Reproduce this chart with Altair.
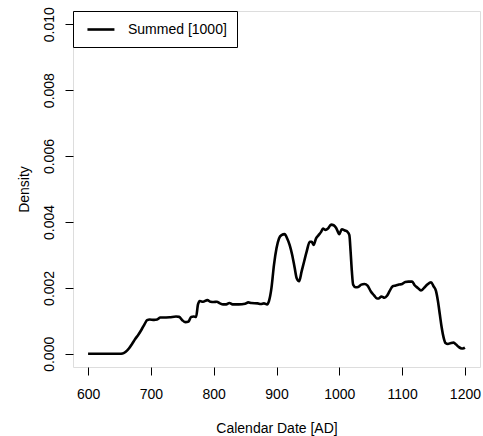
import altair as alt
import pandas as pd

years = [600, 620, 640, 650, 655, 660, 665, 670, 675, 680, 685, 690, 694, 698,
         705, 710, 715, 720, 730, 740, 745, 750, 755, 760, 764, 768, 772, 775,
         778, 783, 790, 795, 800, 805, 810, 815, 820, 825, 830, 840, 850, 855,
         860, 870, 875, 880, 885, 888, 892, 896, 900, 904, 908, 913, 917, 921,
         925, 929, 932, 936, 940, 944, 948, 953, 956, 959, 963, 967, 971, 974,
         978, 982, 987, 991, 995, 1000, 1004, 1009, 1013, 1016, 1018, 1020,
         1022, 1026, 1030, 1035, 1040, 1045, 1050, 1055, 1060, 1063, 1067,
         1072, 1076, 1080, 1085, 1090, 1095, 1100, 1105, 1110, 1116, 1120,
         1125, 1130, 1135, 1140, 1146, 1150, 1154, 1157, 1160, 1163, 1166,
         1169, 1173, 1178, 1182, 1186, 1190, 1195, 1198, 1200]
density = [0, 0, 0, 0, 0.00001, 0.00006, 0.00016, 0.0003, 0.00045, 0.00058,
           0.00073, 0.0009, 0.00102, 0.00104, 0.00103, 0.00104, 0.0011, 0.0011,
           0.00111, 0.00113, 0.00112, 0.00102, 0.00096, 0.00098, 0.00112,
           0.00113, 0.00112, 0.0015, 0.0016, 0.00158, 0.00163, 0.00158, 0.00157,
           0.00158, 0.00153, 0.0015, 0.0015, 0.00154, 0.0015, 0.0015, 0.00152,
           0.00156, 0.00154, 0.00153, 0.00151, 0.00153, 0.0015, 0.0016, 0.002,
           0.0027, 0.0032, 0.0035, 0.0036, 0.00363, 0.0035, 0.0033, 0.003,
           0.0026, 0.0023, 0.0022, 0.0025, 0.0028, 0.0031, 0.0034, 0.0034,
           0.0033, 0.0035, 0.0036, 0.0037, 0.0038, 0.00376, 0.0038, 0.00392,
           0.0039, 0.00382, 0.00363, 0.00378, 0.00374, 0.0037, 0.0036, 0.0031,
           0.0025, 0.0021, 0.00202, 0.00203, 0.0021, 0.00212, 0.00207, 0.0019,
           0.00178, 0.00168, 0.00168, 0.00174, 0.0017, 0.00176, 0.0019,
           0.00205, 0.00207, 0.0021, 0.00212, 0.00218, 0.00219, 0.00219,
           0.00208, 0.002, 0.00192, 0.002, 0.0021, 0.00217, 0.00205, 0.0019,
           0.0016, 0.0012, 0.0008, 0.0005, 0.00033, 0.0003, 0.00033, 0.00034,
           0.00028, 0.00021, 0.00016, 0.00017, 0.00019]
series_name = "Summed [1000]"
x_ticks = [600, 700, 800, 900, 1000, 1100, 1200]
y_ticks = [0.0, 0.002, 0.004, 0.006, 0.008, 0.010]

df = pd.DataFrame({"year": years, "density": density, "series": series_name})

FONT = "Liberation Sans"

chart = alt.Chart(df).mark_line(
    color="black", strokeWidth=2.6, interpolate="monotone"
).encode(
    x=alt.X("year:Q",
            scale=alt.Scale(domain=[576, 1224], nice=False, zero=False),
            axis=alt.Axis(values=x_ticks, format="d", title="Calendar Date [AD]",
                          grid=False, domain=False, tickSize=8, tickColor="black",
                          labelFont=FONT, labelFontSize=14, labelColor="black",
                          labelBaseline="alphabetic", labelPadding=23,
                          labelFlush=False, labelOverlap=False,
                          titleFont=FONT, titleFontSize=14, titleFontWeight="normal",
                          titleColor="black", titleBaseline="alphabetic", titleY=65)),
    y=alt.Y("density:Q",
            scale=alt.Scale(domain=[-0.0004, 0.0104], nice=False, zero=False),
            axis=alt.Axis(values=y_ticks, format=".3f", title="Density",
                          grid=False, domain=False, tickSize=8, tickColor="black",
                          labelFont=FONT, labelFontSize=14, labelColor="black",
                          labelAngle=270, labelAlign="center",
                          labelBaseline="alphabetic", labelPadding=12,
                          labelFlush=False, labelOverlap=False,
                          titleFont=FONT, titleFontSize=14, titleFontWeight="normal",
                          titleColor="black", titleAngle=270,
                          titleBaseline="alphabetic", titleX=-45)),
    stroke=alt.Stroke("series:N",
                      scale=alt.Scale(range=["black"]),
                      legend=alt.Legend(title=None, orient="none", legendX=0, legendY=0,
                                        symbolType="M-0.6,0H3.4", symbolSize=182,
                                        symbolStrokeWidth=2.6, symbolStrokeColor="black",
                                        symbolFillColor="transparent",
                                        labelFont=FONT, labelFontSize=14,
                                        labelColor="black", labelOffset=28,
                                        padding=10, strokeColor="black",
                                        fillColor="white", cornerRadius=0)),
).properties(
    width=407, height=356,
    autosize=alt.AutoSizeParams(type="none"),
    padding={"left": 73, "top": 11, "right": 3, "bottom": 69},
).configure_view(
    stroke="black", strokeWidth=1
).configure(background="white")

chart.save("out.html", embed_options={"renderer": "svg", "actions": False})
